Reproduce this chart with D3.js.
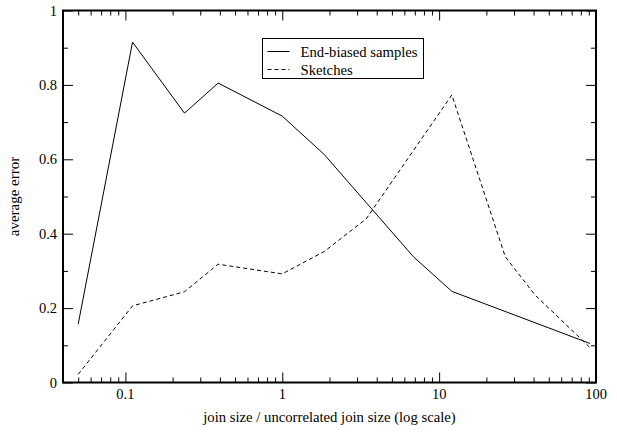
<!DOCTYPE html>
<html>
<head>
<meta charset="utf-8">
<script src="https://cdn.jsdelivr.net/npm/d3@7"></script>
<style>
  body { margin: 0; background: #fff; }
</style>
</head>
<body>
<svg id="chart" width="617" height="436"></svg>
<script>
// values
const biasedSizes  = [0.05, 0.111, 0.238, 0.39, 1, 1.85, 6.86, 12.05, 91.5];
const biasedErrors = [0.157, 0.915, 0.724, 0.805, 0.716, 0.613, 0.338, 0.245, 0.105];
const sketchSizes  = [0.05, 0.111, 0.238, 0.39, 1, 1.85, 3.43, 12.05, 26.4, 40.9, 91.5];
const sketchErrors = [0.022, 0.206, 0.244, 0.318, 0.292, 0.352, 0.44, 0.773, 0.338, 0.235, 0.094];
const xTickValues  = [0.1, 1, 10, 100];
const yTickValues  = [0, 0.2, 0.4, 0.6, 0.8, 1];
const seriesNames  = ["End-biased samples", "Sketches"];

const serif = "'Liberation Serif', 'Times New Roman', Times, serif";

const margin = {top: 10.5, right: 21, bottom: 53.5, left: 63};
const width = 617 - margin.left - margin.right;
const height = 436 - margin.top - margin.bottom;

const svg = d3.select("#chart")
  .attr("font-family", serif);
const g = svg.append("g")
  .attr("transform", `translate(${margin.left}, ${margin.top})`);

const x = d3.scaleLog()
  .domain([0.04, 100])
  .range([0, width]);
const y = d3.scaleLinear()
  .domain([0, 1])
  .range([height, 0]);

// minor ticks 2..9 of each decade inside domain
const minorX = [];
[0.01, 0.1, 1, 10].forEach(d => {
  for (let k = 2; k <= 9; k++) {
    const v = +(d * k).toPrecision(3);
    if (v >= 0.04 && v <= 100) minorX.push(v);
  }
});
const minorY = d3.range(0.1, 1, 0.2).map(v => +v.toFixed(1));

function tickAxis(axis, values, size) {
  return axis.tickValues(values).tickSize(size).tickFormat("");
}

// inward ticks on all four sides
g.append("g").attr("class", "axis")
  .attr("transform", `translate(0, ${height})`)
  .call(tickAxis(d3.axisTop(x), minorX, 5));
g.append("g").attr("class", "axis")
  .attr("transform", `translate(0, ${height})`)
  .call(tickAxis(d3.axisTop(x), xTickValues, 10));
g.append("g").attr("class", "axis")
  .call(tickAxis(d3.axisBottom(x), minorX, 5));
g.append("g").attr("class", "axis")
  .call(tickAxis(d3.axisBottom(x), xTickValues, 10));
g.append("g").attr("class", "axis")
  .call(tickAxis(d3.axisRight(y), minorY, 5));
g.append("g").attr("class", "axis")
  .call(tickAxis(d3.axisRight(y), yTickValues, 10));
g.append("g").attr("class", "axis")
  .attr("transform", `translate(${width}, 0)`)
  .call(tickAxis(d3.axisLeft(y), minorY, 5));
g.append("g").attr("class", "axis")
  .attr("transform", `translate(${width}, 0)`)
  .call(tickAxis(d3.axisLeft(y), yTickValues, 10));

g.selectAll(".axis .domain").remove();
g.selectAll(".axis line").attr("stroke", "#000").attr("stroke-width", 1);

// tick labels
g.append("g")
  .selectAll("text")
  .data(xTickValues)
  .enter().append("text")
    .attr("x", d => x(d))
    .attr("y", height + 16)
    .attr("text-anchor", "middle")
    .attr("font-size", 14.5)
    .text(d => d3.format("~g")(d));

g.append("g")
  .selectAll("text")
  .data(yTickValues)
  .enter().append("text")
    .attr("x", -6)
    .attr("y", d => y(d))
    .attr("dy", "0.35em")
    .attr("text-anchor", "end")
    .attr("font-size", 14.5)
    .text(d => d3.format("~g")(d));

// frame
g.append("rect")
  .attr("width", width)
  .attr("height", height)
  .attr("fill", "none")
  .attr("stroke", "#000")
  .attr("stroke-width", 2);

// lines
const line = d3.line()
  .x(d => x(d[0]))
  .y(d => y(d[1]));

g.append("path")
  .datum(d3.zip(biasedSizes, biasedErrors))
  .attr("fill", "none")
  .attr("stroke", "#000")
  .attr("stroke-width", 1)
  .attr("d", line);

g.append("path")
  .datum(d3.zip(sketchSizes, sketchErrors))
  .attr("fill", "none")
  .attr("stroke", "#000")
  .attr("stroke-width", 1)
  .attr("stroke-dasharray", "4,3")
  .attr("d", line);

// axis titles
svg.append("text")
  .attr("x", margin.left + width / 2)
  .attr("y", 422)
  .attr("text-anchor", "middle")
  .attr("font-size", 14.7)
  .text("join size / uncorrelated join size (log scale)");

svg.append("text")
  .attr("transform", `translate(19, ${margin.top + height / 2}) rotate(-90)`)
  .attr("text-anchor", "middle")
  .attr("font-size", 15)
  .text("average error");

// legend
const legend = svg.append("g")
  .attr("transform", "translate(262.5, 38.5)");
legend.append("rect")
  .attr("width", 161)
  .attr("height", 40)
  .attr("fill", "#fff")
  .attr("stroke", "#000")
  .attr("stroke-width", 1);

const item = legend.selectAll(".item")
  .data(seriesNames)
  .enter().append("g")
    .attr("class", "item")
    .attr("transform", (d, i) => `translate(0, ${13 + i * 18})`);
item.append("line")
  .attr("x1", 5)
  .attr("x2", 27)
  .attr("stroke", "#000")
  .attr("stroke-dasharray", (d, i) => i ? "4,3" : null);
item.append("text")
  .attr("x", 38)
  .attr("dy", "0.35em")
  .attr("font-size", 14.7)
  .text(d => d);
</script>
</body>
</html>
